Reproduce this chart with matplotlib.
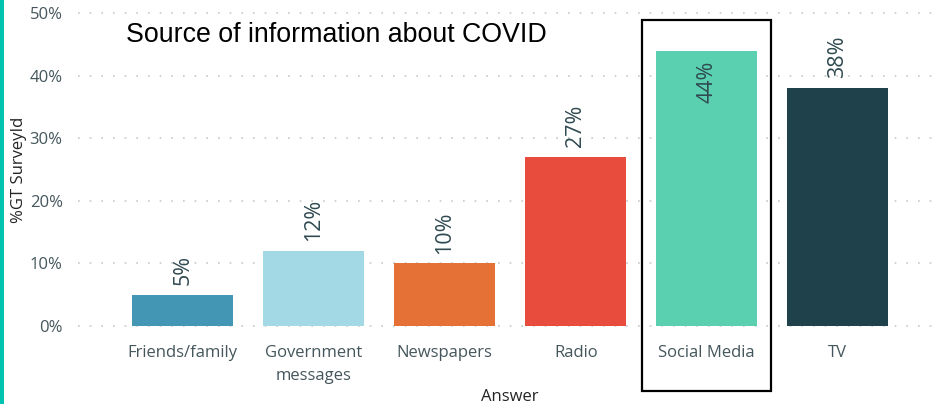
import matplotlib
matplotlib.use("Agg")
import matplotlib.pyplot as plt
from matplotlib.patches import Rectangle
from matplotlib.ticker import PercentFormatter

categories = ["Friends/family", "Government\nmessages", "Newspapers", "Radio", "Social Media", "TV"]
values = [0.05, 0.12, 0.10, 0.27, 0.44, 0.38]
colors = ["#4396B4", "#A3D9E5", "#E57136", "#E84C3D", "#5AD0B1", "#1E414B"]
yticks = [0, 0.1, 0.2, 0.3, 0.4, 0.5]
inside_label = "Social Media"

W, H = 936, 404
fig = plt.figure(figsize=(W / 100, H / 100), dpi=100)
ax = fig.add_axes([78 / W, (H - 326) / H, (936 - 78) / W, (326 - 13) / H])

x = list(range(len(categories)))
ax.bar(x, values, width=0.77, color=colors, zorder=3)
ax.set_xlim(-0.8, 5.75)
ax.set_ylim(0, 0.5)
ax.set_yticks(yticks)
ax.yaxis.set_major_formatter(PercentFormatter(1.0, decimals=0))
ax.set_xticks(x)
ax.set_xticklabels(categories, linespacing=1.55)
for s in ax.spines.values():
    s.set_visible(False)
ax.tick_params(length=0, labelsize=12, labelcolor="#44565C")
ax.tick_params(axis="x", pad=14)
ax.tick_params(axis="y", pad=11)
for lab in ax.get_xticklabels() + ax.get_yticklabels():
    lab.set_fontfamily("Open Sans")
ax.grid(axis="y", linestyle=(0, (1, 6)), color="#C8C8C8", linewidth=1.2, zorder=0)
for ln in ax.get_ygridlines():
    ln.set_clip_on(False)

for xi, v, c in zip(x, values, categories):
    txt = f"{round(v * 100)}%"
    if c == inside_label:
        ax.annotate(txt, (xi, v), xytext=(0, -7), textcoords="offset points",
                    rotation=90, ha="center", va="top", fontsize=15.5,
                    color="#2F4A50", family="Open Sans", zorder=4)
    else:
        ax.annotate(txt, (xi, v), xytext=(0, 7), textcoords="offset points",
                    rotation=90, ha="center", va="bottom", fontsize=15.5,
                    color="#2F4A50", family="Open Sans", zorder=4)

fig.text(19 / W, 1 - 170 / H, "%GT SurveyId", rotation=90, ha="center", va="center",
         fontsize=12, color="#252423", family="Open Sans")
fig.text(510 / W, 1 - 397 / H, "Answer", ha="center", va="center",
         fontsize=12, color="#252423", family="Open Sans")
fig.text(126 / W, 1 - 35 / H, "Source of information about COVID", ha="left", va="center",
         fontsize=19.3, color="black", family="Liberation Sans")

# highlight box around Social Media
fig.add_artist(Rectangle((642 / W, 1 - 391 / H), (771 - 642) / W, (391 - 20) / H,
                         transform=fig.transFigure, fill=False, edgecolor="black", linewidth=1.6))
# teal left border
fig.add_artist(Rectangle((0, 0), 4 / W, 1, transform=fig.transFigure,
                         facecolor="#00C4B0", edgecolor="none"))

fig.savefig("out.png", dpi=100)
